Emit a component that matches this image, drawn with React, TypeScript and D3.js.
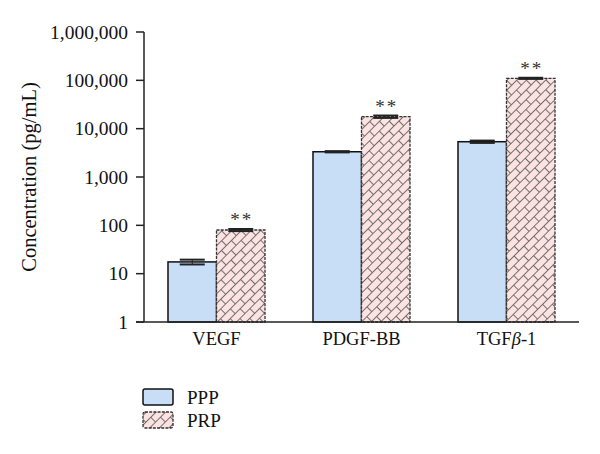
import React from "react";
import * as d3 from "d3";

const categories = ["VEGF", "PDGF-BB", "TGFβ-1"];
const seriesNames = ["PPP", "PRP"];
const pppValues = [17.5, 3330, 5370];
const pppErrors = [2, 100, 300];
const prpValues = [80, 17700, 110000];
const prpErrors = [4, 1000, 3000];
const yTicks = [1, 10, 100, 1000, 10000, 100000, 1000000];
const significance = ["**", "**", "**"];

const W = 600;
const H = 454;
const left = 144;
const right = 579;
const top = 32;
const bottom = 322;

const FONT = "'Liberation Serif', 'Times New Roman', serif";
const PPP_FILL = "#c8ddf6";
const PRP_FILL = "#fde2e2";

export default function App() {
  const x = d3
    .scaleBand<string>()
    .domain(categories)
    .range([left, right])
    .paddingInner(0.331)
    .paddingOuter(0.1655);
  const xs = d3.scaleBand<string>().domain(seriesNames).range([0, x.bandwidth()]);
  const y = d3.scaleLog().domain([1, 1e6]).range([bottom, top]);
  const fmt = d3.format(",");

  const series = [
    { name: "PPP", values: pppValues, errors: pppErrors },
    { name: "PRP", values: prpValues, errors: prpErrors },
  ];

  return (
    <svg
      width={W}
      height={H}
      style={{ position: "absolute", left: 0, top: 0, background: "#fff" }}
      fontFamily={FONT}
    >
      <defs>
        <pattern
          id="brick"
          patternUnits="userSpaceOnUse"
          width={14}
          height={13.6}
          patternTransform="rotate(-45)"
        >
          <rect width={14} height={13.6} fill={PRP_FILL} />
          <g stroke="#6e6e6e" strokeWidth={1} fill="none">
            <line x1={0} y1={0.5} x2={14} y2={0.5} />
            <line x1={0} y1={7.3} x2={14} y2={7.3} />
            <line x1={0.5} y1={0} x2={0.5} y2={6.8} />
            <line x1={7.5} y1={6.8} x2={7.5} y2={13.6} />
          </g>
        </pattern>
      </defs>

      {/* bars */}
      {series.map((s) =>
        categories.map((c, i) => {
          const bx = (x(c) ?? 0) + (xs(s.name) ?? 0);
          const bw = xs.bandwidth();
          const yt = y(s.values[i]);
          const isPRP = s.name === "PRP";
          return (
            <rect
              key={s.name + c}
              x={bx}
              y={yt}
              width={bw}
              height={bottom - yt}
              fill={isPRP ? "url(#brick)" : PPP_FILL}
              stroke={isPRP ? "#333" : "#111"}
              strokeWidth={isPRP ? 1.3 : 1.5}
              strokeDasharray={isPRP ? "3 1.2" : undefined}
            />
          );
        })
      )}

      {/* error bars */}
      {series.map((s) =>
        categories.map((c, i) => {
          const cx = (x(c) ?? 0) + (xs(s.name) ?? 0) + xs.bandwidth() / 2;
          const yHi = y(s.values[i] + s.errors[i]);
          const yLo = y(s.values[i] - s.errors[i]);
          return (
            <g key={"e" + s.name + c} stroke="#222">
              <line x1={cx} x2={cx} y1={yHi} y2={yLo} strokeWidth={1} />
              <line x1={cx - 12.5} x2={cx + 12.5} y1={yHi} y2={yHi} strokeWidth={2} />
              <line x1={cx - 12.5} x2={cx + 12.5} y1={yLo} y2={yLo} strokeWidth={2} />
            </g>
          );
        })
      )}

      {/* significance */}
      {categories.map((c, i) => {
        const cx = (x(c) ?? 0) + (xs("PRP") ?? 0) + xs.bandwidth() / 2;
        return (
          <text
            key={"s" + c}
            x={cx + 1}
            y={y(prpValues[i] + prpErrors[i]) - 3}
            textAnchor="middle"
            fontSize={19}
            letterSpacing={2}
            fill="#333"
          >
            {significance[i]}
          </text>
        );
      })}

      {/* axes */}
      <line x1={left} x2={left} y1={top} y2={bottom} stroke="#222" strokeWidth={1.5} />
      <line x1={left - 8} x2={right} y1={bottom} y2={bottom} stroke="#222" strokeWidth={1.5} />
      {yTicks.map((t) => (
        <g key={"t" + t}>
          <line x1={left - 8} x2={left} y1={y(t)} y2={y(t)} stroke="#222" strokeWidth={1.5} />
          <text x={left - 16} y={y(t)} dy="0.35em" textAnchor="end" fontSize={19.5} fill="#111">
            {fmt(t)}
          </text>
        </g>
      ))}
      {categories.map((c) => (
        <text
          key={"c" + c}
          x={(x(c) ?? 0) + x.bandwidth() / 2}
          y={345}
          textAnchor="middle"
          fontSize={18.5}
          fill="#111"
        >
          {c === "TGFβ-1" ? (
            <>
              TGF<tspan fontStyle="italic">β</tspan>-1
            </>
          ) : (
            c
          )}
        </text>
      ))}
      <text
        transform={`translate(36, ${(top + bottom) / 2}) rotate(-90)`}
        textAnchor="middle"
        fontSize={20.5}
        fill="#111"
      >
        Concentration (pg/mL)
      </text>

      {/* legend */}
      <rect x={143} y={389} width={30} height={16} rx={2} fill={PPP_FILL} stroke="#111" strokeWidth={1.5} />
      <text x={187} y={404} fontSize={19} fill="#111">
        PPP
      </text>
      <rect
        x={143}
        y={412}
        width={30}
        height={16}
        rx={2}
        fill="url(#brick)"
        stroke="#333"
        strokeWidth={1.3}
        strokeDasharray="3 1.2"
      />
      <text x={187} y={427} fontSize={19} fill="#111">
        PRP
      </text>
    </svg>
  );
}
